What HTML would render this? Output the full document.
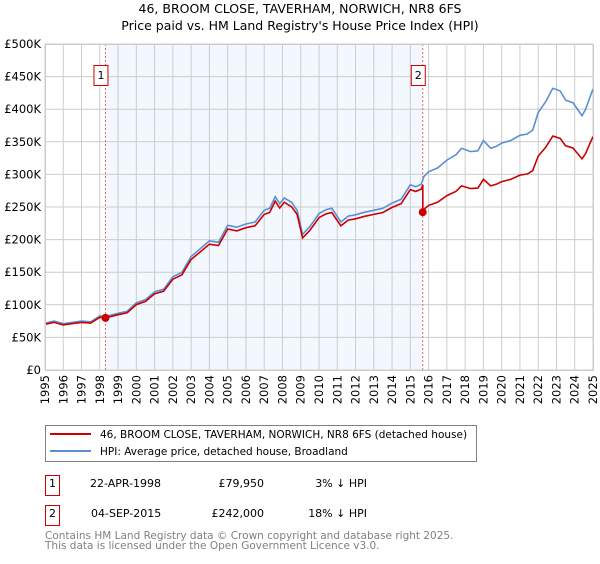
<!DOCTYPE html>
<html><head><meta charset="utf-8"><style>
body{margin:0;background:#fff;width:600px;height:560px;overflow:hidden;font-family:"DejaVu Sans","Liberation Sans",sans-serif}
text{font-family:"DejaVu Sans","Liberation Sans",sans-serif}
</style></head><body>
<svg id="chart" width="600" height="560" xmlns="http://www.w3.org/2000/svg">
<text x="300" y="13" text-anchor="middle" font-size="12.5">46, BROOM CLOSE, TAVERHAM, NORWICH, NR8 6FS</text>
<text x="300" y="30" text-anchor="middle" font-size="12.5">Price paid vs. HM Land Registry's House Price Index (HPI)</text>
<g id="plot"></g>
<g>
<rect x="45.5" y="425.5" width="431" height="36" fill="#fff" stroke="#808080"/>
<line x1="50" y1="434" x2="91" y2="434" stroke="#cc0000" stroke-width="2"/>
<text x="100" y="438" font-size="10.5">46, BROOM CLOSE, TAVERHAM, NORWICH, NR8 6FS (detached house)</text>
<line x1="50" y1="451" x2="91" y2="451" stroke="#5b8fd4" stroke-width="2"/>
<text x="100" y="455" font-size="10.5">HPI: Average price, detached house, Broadland</text>
</g>
<g font-size="11">
<rect x="45.5" y="475.5" width="14" height="20" fill="#fff" stroke="#cc0000"/>
<text x="52.5" y="487" text-anchor="middle">1</text>
<text x="90" y="487">22-APR-1998</text>
<text x="264" y="487" text-anchor="end">£79,950</text>
<text x="367" y="487" text-anchor="end">3% ↓ HPI</text>
<rect x="45.5" y="505.5" width="14" height="20" fill="#fff" stroke="#cc0000"/>
<text x="52.5" y="517" text-anchor="middle">2</text>
<text x="91" y="517">04-SEP-2015</text>
<text x="264" y="517" text-anchor="end">£242,000</text>
<text x="367" y="517" text-anchor="end">18% ↓ HPI</text>
</g>
<text x="45" y="539" font-size="10.5" fill="#808080">Contains HM Land Registry data © Crown copyright and database right 2025.</text>
<text x="45" y="549" font-size="10.5" fill="#808080">This data is licensed under the Open Government Licence v3.0.</text>
</svg>
<script>
const yTicks=[0,50,100,150,200,250,300,350,400,450,500];
const yTickLabels=["£0","£50K","£100K","£150K","£200K","£250K","£300K","£350K","£400K","£450K","£500K"];
const xTicks=[1995,1996,1997,1998,1999,2000,2001,2002,2003,2004,2005,2006,2007,2008,2009,2010,2011,2012,2013,2014,2015,2016,2017,2018,2019,2020,2021,2022,2023,2024,2025];
const hpiYears=[1995,1995.5,1996,1996.5,1997,1997.5,1998,1998.3,1999,1999.5,2000,2000.5,2001,2001.5,2002,2002.5,2003,2003.5,2004,2004.5,2005,2005.5,2006,2006.5,2007,2007.3,2007.6,2007.85,2008.1,2008.5,2008.8,2009.1,2009.5,2010,2010.4,2010.7,2011.2,2011.6,2012,2012.5,2013,2013.5,2014,2014.5,2015,2015.3,2015.6,2015.75,2016,2016.5,2017,2017.5,2017.8,2018.3,2018.7,2019,2019.4,2019.7,2020,2020.5,2021,2021.4,2021.7,2022,2022.4,2022.8,2023.2,2023.5,2023.9,2024.2,2024.4,2024.6,2024.85,2025];
const hpiValues=[72,75,71,73,75,74,83,82,87,90,103,108,120,124,143,150,174,186,198,196,222,219,224,227,245,248,266,255,264,257,245,208,220,240,246,248,227,236,238,242,245,248,256,262,284,281,285,297,304,310,322,330,340,335,336,352,340,343,348,352,360,362,368,395,411,432,428,414,410,398,390,400,420,431];
const saleYears=[1998.31,2015.68];
const salePrices=[79.95,242];
const L=45,R=593,T=44,B=370;
const x=v=>L+(v-1995)/30*(R-L);
const y=v=>B-v/500*(B-T);
const NS="http://www.w3.org/2000/svg";
const g=document.getElementById('plot');
function mk(tag,attrs,parent){const e=document.createElementNS(NS,tag);for(const k in attrs)e.setAttribute(k,attrs[k]);(parent||g).appendChild(e);return e;}
function hpiAt(t){for(let i=1;i<hpiYears.length;i++){if(t<=hpiYears[i]){const f=(t-hpiYears[i-1])/(hpiYears[i]-hpiYears[i-1]);return hpiValues[i-1]+f*(hpiValues[i]-hpiValues[i-1]);}}return hpiValues[hpiValues.length-1];}
let bg=mk('rect',{x:L,y:T,width:R-L,height:B-T,fill:'#fff'});


let sh=mk('rect',{x:x(saleYears[0]),y:T,width:x(saleYears[1])-x(saleYears[0]),height:B-T,fill:'#eef3fd',opacity:0.7});


yTicks.forEach((v,i)=>{
 let l=mk('line',{x1:L,x2:R,y1:y(v),y2:y(v),stroke:'#cccccc'});
 
 
 let t=mk('text',{x:L-4,y:y(v)+4,'text-anchor':'end','font-size':'11.5'});
 t.textContent=yTickLabels[i];
 
 
});
xTicks.forEach(v=>{
 let l=mk('line',{x1:x(v),x2:x(v),y1:T,y2:B,stroke:'#cccccc'});
 
 
 let t=mk('text',{x:0,y:0,'text-anchor':'end','font-size':'11.5',transform:`translate(${x(v)+4},${B+5}) rotate(-90)`});
 t.textContent=v;
 
 
});
saleYears.forEach((s,i)=>{
 let l=mk('line',{x1:x(s),x2:x(s),y1:T,y2:B,stroke:'#ee6666','stroke-dasharray':'2,2'});
 
 
 let r=mk('rect',{x:x(s)-11.5,y:T+21.5,width:14,height:20,fill:'#fff',stroke:'#cc0000'});
 
 
 let t=mk('text',{x:x(s)-4.5,y:T+35,'text-anchor':'middle','font-size':'11'});
 t.textContent=String(i+1);
 
 
});
let d=hpiYears.map((t,i)=>(i?'L':'M')+x(t).toFixed(1)+','+y(hpiValues[i]).toFixed(1)).join('');
let hp=mk('path',{d:d,fill:'none',stroke:'#5b8fd4','stroke-width':1.6});


const r1=salePrices[0]/hpiAt(saleYears[0]), r2=salePrices[1]/hpiAt(saleYears[1]);
let pts=[];
hpiYears.forEach((t,i)=>{ if(t<saleYears[1]) pts.push([t,hpiValues[i]*r1]); });
pts.push([saleYears[1],hpiAt(saleYears[1])*r1]);
pts.push([saleYears[1],salePrices[1]]);
hpiYears.forEach((t,i)=>{if(t>saleYears[1])pts.push([t,hpiValues[i]*r2]);});
let pd=pts.map((p,i)=>(i?'L':'M')+x(p[0]).toFixed(1)+','+y(p[1]).toFixed(1)).join('');
let pp=mk('path',{d:pd,fill:'none',stroke:'#cc0000','stroke-width':1.6});


saleYears.forEach((s,i)=>{
 let c=mk('circle',{cx:x(s),cy:y(salePrices[i]),r:4,fill:'#cc0000'});
 
 
});
let fr=mk('rect',{x:L+0.5,y:T+0.5,width:R-L,height:B-T,fill:'none',stroke:'#cccccc'});


</script>
</body></html>
